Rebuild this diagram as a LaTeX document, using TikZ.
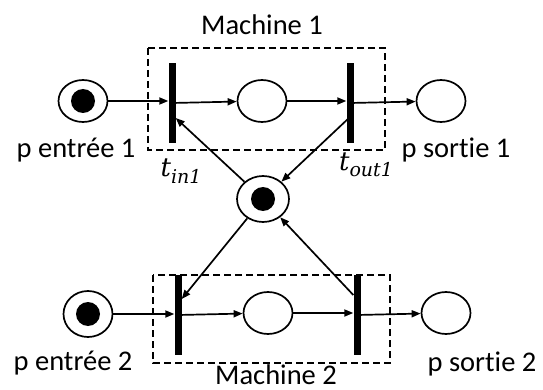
\documentclass[tikz,border=0pt]{standalone}
\usepackage{fontspec}
\setmainfont{Carlito}[Ligatures=NoCommon]
\newfontfamily\transfont{DejaVu Serif}
\usetikzlibrary{arrows.meta,shapes.geometric}
% transition name: italic t with a lowered italic index
\newcommand{\transname}[1]{{\transfont\itshape t}\raisebox{-6pt}{\fontsize{19}{20}\transfont\itshape #1}}
\begin{document}
\begin{tikzpicture}[x=1pt,y=-1pt,
  place/.style={draw,ellipse,line width=1.7pt,minimum width=49pt,minimum height=42pt,inner sep=0pt},
  token/.style={circle,fill=black,minimum size=24pt,inner sep=0pt},
  trans/.style={rectangle,fill=black,minimum width=7pt,minimum height=80pt,inner sep=0pt},
  arc/.style={line width=1.7pt,-{Triangle[length=9pt,width=7pt]}},
  machine/.style={draw,dashed,dash pattern=on 7pt off 4pt,line width=1.4pt},
  lbl/.style={font=\fontsize{28.5}{32}\selectfont,inner sep=0pt,anchor=base},
  tlbl/.style={font=\fontsize{26}{30}\selectfont,inner sep=0pt,anchor=base}
]
\useasboundingbox (0,0) rectangle (543,390);

% machine frames
\draw[machine] (148,48) rectangle (385,150);
\draw[machine] (153,275) rectangle (390,363);

% places
\node[place] (pe1) at (83,101) {};
\node[token] (pe1tok) at (83,101) {};
\node[place] (m1) at (262,101) {};
\node[place] (ps1) at (441,101) {};
\node[place,minimum width=52pt,minimum height=46pt] (res) at (263,199) {};
\node[token] (restok) at (263,199) {};
\node[place,minimum height=46pt] (pe2) at (88,314) {};
\node[token] (pe2tok) at (88,314) {};
\node[place] (m2) at (268,313) {};
\node[place] (ps2) at (446,313) {};

% transitions
\node[trans] (tin1) at (172,103) {};
\node[trans] (tout1) at (350,103) {};
\node[trans] (tin2) at (178,315) {};
\node[trans] (tout2) at (357,315) {};

% arcs of machine 1
\draw[arc] (pe1) -- (pe1 -| tin1.west);
\draw[arc] (tin1) -- (m1);
\draw[arc] (m1) -- (m1 -| tout1.west);
\draw[arc] (tout1) -- (ps1);

% arcs of machine 2
\draw[arc] (pe2) -- (pe2 -| tin2.west);
\draw[arc] (tin2) -- (m2);
\draw[arc] (m2) -- (m2 -| tout2.west);
\draw[arc] (tout2) -- (ps2);

% shared resource arcs
\draw[arc] (res) -- ([yshift=-15pt]tin1.east);
\draw[arc] ([yshift=-14pt]tout1.center) -- (res);
\draw[arc] (res) -- ([yshift=16pt]tin2.east);
\draw[arc] ([yshift=20pt]tout2.west) -- (res);

% labels
\node[lbl] (mach1) at (262,35) {Machine 1};
\node[lbl] (mach2) at (276,384) {Machine 2};
\node[lbl] (lpe1) at (76,158) {p entrée 1};
\node[lbl] (lps1) at (456,158) {p sortie 1};
\node[lbl] (lpe2) at (73,370) {p entrée 2};
\node[lbl] (lps2) at (482,371) {p sortie 2};
\node[tlbl] (ltin1) at (181,177) {\transname{in1}};
\node[tlbl] (ltout1) at (366,171) {\transname{out1}};
\end{tikzpicture}
\end{document}
